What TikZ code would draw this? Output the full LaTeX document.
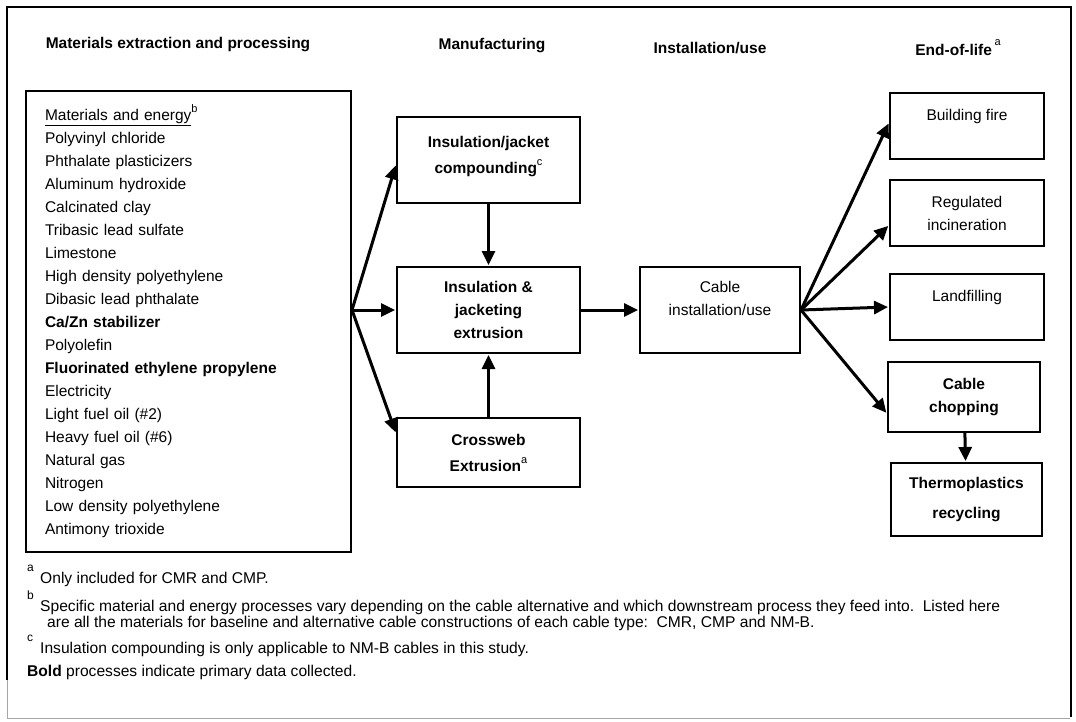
\documentclass[tikz,border=0pt]{standalone}
\usepackage{fontspec}
\setmainfont{Liberation Sans}
\usetikzlibrary{positioning,arrows.meta,calc}
\newcommand{\supmark}[1]{\raisebox{8pt}{\fontsize{11}{11}\mdseries\selectfont #1}}
\newcommand{\notemark}[1]{\makebox[13pt][l]{\raisebox{12pt}{\fontsize{12}{12}\selectfont #1}}}

\begin{document}
\begin{tikzpicture}[x=1pt,y=-1pt,shorten >=1pt,node distance=90pt,on grid,
    box/.style={draw,line width=2pt,minimum width=183pt,align=center,inner sep=0pt,font=\fontsize{15.5}{23}\selectfont},
    eolbox/.style={box,minimum width=154pt,minimum height=66pt},
    head/.style={font=\fontsize{15.5}{18}\selectfont\bfseries},
    note/.style={anchor=base west,inner sep=0pt,font=\fontsize{15.6}{15}\selectfont},
    flow/.style={line width=3pt,-{Triangle[length=14pt,width=13pt]}}]
  \useasboundingbox (0,0) rectangle (1076,721);
  \draw[line width=1.6pt] (7,680) -- (7,7) -- (1071,7) -- (1071,718);
  \draw[line width=1pt,black!35] (7,680) -- (7,718) -- (1071,718);

  % column headings
  \node[head] (h_mat) at (178,45) {Materials extraction and processing};
  \node[head] (h_man) at (492,46) {Manufacturing};
  \node[head] (h_ins) at (710,48) {Installation/use};
  \node[head] (h_eol) at (958,48) {End-of-life\,\raisebox{2pt}{\supmark{a}}};

  % materials and energy
  \node[draw,line width=2pt,minimum width=325pt,minimum height=461pt,text width=287pt,
        inner xsep=19pt,align=left,font=\fontsize{15.5}{23}\selectfont] (mat) at (188.5,321.5)
    {\underline{Materials and energy}\supmark{b}\\
     Polyvinyl chloride\\
     Phthalate plasticizers\\
     Aluminum hydroxide\\
     Calcinated clay\\
     Tribasic lead sulfate\\
     Limestone\\
     High density polyethylene\\
     Dibasic lead phthalate\\
     \textbf{Ca/Zn stabilizer}\\
     Polyolefin\\
     \textbf{Fluorinated ethylene propylene}\\
     Electricity\\
     Light fuel oil (\#2)\\
     Heavy fuel oil (\#6)\\
     Natural gas\\
     Nitrogen\\
     Low density polyethylene\\
     Antimony trioxide};

  % manufacturing
  \node[box,minimum height=86pt] (comp) at (488.5,160) {\bfseries Insulation/jacket\\[3pt] \bfseries compounding\supmark{c}\\[-13pt] \mbox{}};
  \node[box,minimum height=86pt] (extr) [below=150pt of comp] {\bfseries Insulation \&\\ \bfseries jacketing\\ \bfseries extrusion};
  \node[box,minimum height=69pt] (cross) [below=142.5pt of extr] {\bfseries Crossweb\\[3pt] \bfseries Extrusion\supmark{a}};

  % installation/use
  \node[box,minimum width=160pt,minimum height=86pt] (cable) [right=231.5pt of extr] {Cable\\ installation/use\\ \mbox{}};

  % end-of-life
  \node[eolbox] (fire) at (967,126) {Building fire\\ \mbox{}};
  \node[eolbox] (reg) [below=87pt of fire] {Regulated\\ incineration};
  \node[eolbox] (land) [below=94pt of reg] {Landfilling\\ \mbox{}};
  \node[eolbox,minimum width=152pt,minimum height=70pt] (chop) [below=90pt of land,xshift=-3pt] {\bfseries Cable\\ \bfseries chopping};
  \node[eolbox,minimum width=151pt,minimum height=73pt] (thermo) [below=102.5pt of chop,xshift=2.5pt] {\bfseries Thermoplastics\\[7pt] \bfseries recycling};

  \coordinate (fan) at (mat.east |- extr.west);
  \path[flow]
    (fan) edge ($(comp.north west)!.55!(comp.south west)$)
    (fan) edge (extr.west)
    (fan) edge ($(cross.north west)!.23!(cross.south west)$)
    (comp) edge (extr)
    (cross) edge (extr)
    (extr) edge (cable)
    (cable.east) edge ($(fire.north west)!.45!(fire.south west)$)
    (cable.east) edge ($(reg.north west)!.68!(reg.south west)$)
    (cable.east) edge (land.west)
    (cable.east) edge ($(chop.north west)!.73!(chop.south west)$)
    (chop) edge (thermo)
    ; %end path

  % notes
  \node[note] (fn_a) at (27,583.5) {\notemark{a}Only included for CMR and CMP.};
  \node[note] (fn_b) at (27,611) {\notemark{b}Specific material and energy processes vary depending on the cable alternative and which downstream process they feed into.\ \ Listed here};
  \node[note] (fn_b2) at (47,627) {are all the materials for baseline and alternative cable constructions of each cable type:\ \ CMR, CMP and NM-B.};
  \node[note] (fn_c) at (27,653) {\notemark{c}Insulation compounding is only applicable to NM-B cables in this study.};
  \node[note] (fn_bold) at (27,676) {\textbf{Bold} processes indicate primary data collected.};
\end{tikzpicture}
\end{document}
